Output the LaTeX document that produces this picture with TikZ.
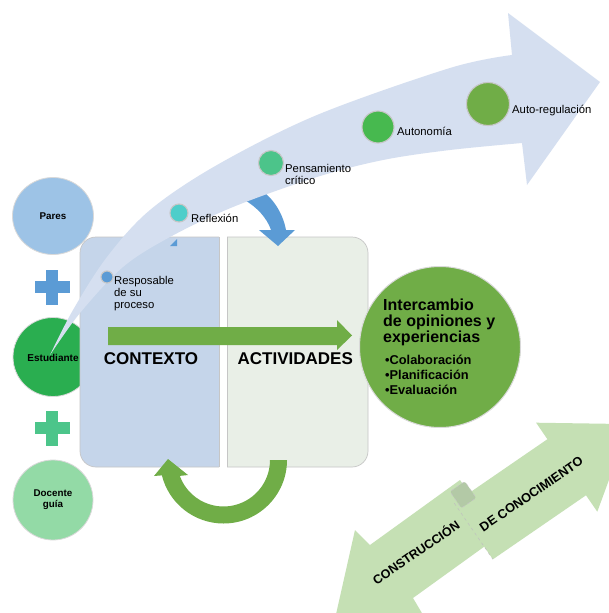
\documentclass[tikz,border=0pt]{standalone}
\usepackage{fontspec}
\setmainfont{Liberation Sans}
\usetikzlibrary{shapes.geometric}
\definecolor{arrowbg}{HTML}{D5DFF0}
\definecolor{ctxblue}{HTML}{C5D5EA}
\definecolor{actgray}{HTML}{E9EFE7}
\definecolor{accgreen}{HTML}{70AD47}
\definecolor{accblue}{HTML}{5B9BD5}
\definecolor{paresblue}{HTML}{9DC3E6}
\definecolor{estgreen}{HTML}{2AAE50}
\definecolor{plusgreen}{HTML}{4CC58A}
\definecolor{docgreen}{HTML}{93DAA6}
\definecolor{refteal}{HTML}{4ECECA}
\definecolor{pensgreen}{HTML}{4CC48A}
\definecolor{autgreen}{HTML}{47B94F}
\definecolor{lightgreen}{HTML}{C5E0B4}
\definecolor{patchgreen}{HTML}{B3C9A6}
\tikzset{
  person/.style={ellipse, draw=gray!30, line width=0.8pt, inner sep=0pt,
    font=\bfseries\fontsize{9.8}{11}\selectfont, align=center},
  stepdot/.style={circle, draw=gray!45, line width=1.1pt, inner sep=0pt},
  steplabel/.style={anchor=base west, inner sep=0pt, font=\fontsize{11.3}{12}\selectfont},
  bigtitle/.style={anchor=base west, inner sep=0pt, font=\bfseries\fontsize{16}{16}\selectfont},
  bulletline/.style={anchor=base west, inner sep=0pt, font=\bfseries\fontsize{12.8}{15}\selectfont},
  boxtitle/.style={inner sep=0pt, font=\bfseries\fontsize{17}{18}\selectfont},
  diaglabel/.style={rotate=34.5, inner sep=0pt, font=\bfseries\fontsize{12.5}{14}\selectfont},
  boxline/.style={draw=gray!45, line width=0.7pt},
}
\begin{document}
\begin{tikzpicture}[x=1pt,y=-1pt]
\useasboundingbox (0,0) rectangle (609,613);
\fill[white] (0,0) rectangle (609,613);
\clip (0,0) rectangle (609,613);

% ---- persons and plus signs
\node[person, fill=paresblue, minimum width=81pt, minimum height=77pt] (pares) at (53,216) {Pares};
\fill[accblue] (52,287) +(-6,-17.5) rectangle +(6,17.5);
\fill[accblue] (52,287) +(-17.5,-6) rectangle +(17.5,6);
\node[person, fill=estgreen, minimum width=80pt, minimum height=79pt] (est) at (53,357) {};
\fill[plusgreen] (52,428) +(-6,-17.5) rectangle +(6,17.5);
\fill[plusgreen] (52,428) +(-17.5,-6) rectangle +(17.5,6);
\node[person, fill=docgreen, minimum width=80pt, minimum height=80pt] (doc) at (53,500) {Docente\\guía};

% ---- the two boxes
\begin{scope}
  \clip (0,0) rectangle (219,613);
  \filldraw[boxline, fill=ctxblue, rounded corners=16pt] (80,237) rectangle (250,467);
\end{scope}
\draw[boxline] (219,237) -- (219,467);
\begin{scope}
  \clip (227,0) rectangle (609,613);
  \filldraw[boxline, fill=actgray, rounded corners=16pt] (195,237) rectangle (368,467);
\end{scope}
\draw[boxline] (227,237) -- (227,467);

% ---- small blue bent arrow
\fill[accblue] (243,199) .. controls (257,207) and (267,218) .. (271,230)
  -- (259,230) -- (278,246) -- (295,230) -- (286,230)
  .. controls (283,214) and (274,199) .. (261,190) -- cycle;

% ---- big curved arrow
\fill[arrowbg] plot[smooth, tension=0.55] coordinates {(50,355) (73,310) (107,257) (150,210) (217,165) (317,115) (450,68) (512,55)}
  -- (508,13) -- (600,82) -- (527,185) -- (522,143)
  -- plot[smooth, tension=0.55] coordinates {(522,143) (450,150) (383,160) (317,177) (233,207) (170,237) (123,267) (80,313) (50,355)} -- cycle;
\fill[accblue] (170,246) -- (177,239) -- (177,246) -- cycle;

\node[font=\bfseries\fontsize{10}{11}\selectfont, inner sep=0pt] (estlbl) at (53,357.5) {Estudiante};

% ---- steps on the curved arrow
\node[stepdot, fill=accblue, minimum size=12pt] (resp) at (107,277) {};
\node[steplabel] (resp1) at (114,284.3) {Resposable};
\node[steplabel] (resp2) at (114,296.5) {de su};
\node[steplabel] (resp3) at (114,308.3) {proceso};
\node[stepdot, fill=refteal, minimum size=18pt] (refl) at (179,213) {};
\node[steplabel] (refllbl) at (191,222.5) {Reflexión};
\node[stepdot, fill=pensgreen, minimum size=25pt] (pens) at (271,163) {};
\node[steplabel] (pens1) at (285,172.7) {Pensamiento};
\node[steplabel] (pens2) at (285,184.5) {crítico};
\node[stepdot, fill=autgreen, minimum size=32pt] (auto) at (378,127) {};
\node[steplabel] (autolbl) at (397,135.7) {Autonomía};
\node[stepdot, fill=accgreen, minimum size=43pt] (autoreg) at (488,104) {};
\node[steplabel] (autoreglbl) at (512,113.3) {Auto-regulación};

% ---- box titles and horizontal arrow
\node[boxtitle] (ctx) at (151,358.8) {CONTEXTO};
\node[boxtitle] (act) at (295.3,358.8) {ACTIVIDADES};
\fill[accgreen] (108,327) -- (337,327) -- (337,320) -- (352,335.5) -- (337,350) -- (337,345) -- (108,345) -- cycle;

% ---- big green circle
\node[circle, fill=accgreen, draw=gray!30, line width=1pt, minimum size=161pt, inner sep=0pt] (interc) at (440,347) {};
\node[bigtitle] (t1) at (383,310) {Intercambio};
\node[bigtitle] (t2) at (383,326) {de opiniones y};
\node[bigtitle] (t3) at (383,342) {experiencias};
\node[bulletline] (b1) at (385,364) {•Colaboración};
\node[bulletline] (b2) at (385,379.3) {•Planificación};
\node[bulletline] (b3) at (385,394.7) {•Evaluación};

% ---- U-turn arrow
\fill[accgreen] (287,460) arc[start angle=0, end angle=166, radius=63.5]
  -- (154,476) -- (168,459) -- (188,475) -- (179.8,475.9)
  arc[start angle=160, end angle=0, radius=46.5] -- cycle;

% ---- bottom double arrow
\fill[lightgreen] (460,480) -- (370,545) -- (355,530) -- (333.6,625) -- (429,625) -- (413,598) -- (499,536) -- cycle;
\fill[lightgreen] (454.3,503.2) -- (547.4,439.2) -- (536.1,422.7) -- (629.4,424.1) -- (597.3,511.7) -- (586.0,495.3) -- (492.9,559.3) -- cycle;
\draw[gray!50, dashed, line width=0.5pt] (454.3,503.2) -- (492.9,559.3);
\filldraw[fill=patchgreen, draw=gray!45, dashed, line width=0.5pt, rounded corners=2pt]
  (450.0,491.6) -- (464.8,481.4) -- (476.2,497.9) -- (461.4,508.1) -- cycle;
\node[diaglabel] (constr) at (415.6,552) {CONSTRUCCIÓN};
\node[diaglabel, font=\bfseries\fontsize{12.8}{14}\selectfont] (conoc) at (531.3,494) {DE CONOCIMIENTO};
\end{tikzpicture}
\end{document}
